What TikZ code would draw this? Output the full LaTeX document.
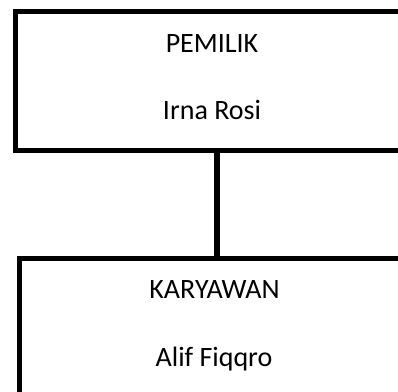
\documentclass[tikz,border=0pt]{standalone}
\usepackage{fontspec}
\setmainfont{Carlito}
\usetikzlibrary{positioning,calc}

\begin{document}
\begin{tikzpicture}[
    x=1pt, y=-1pt,
    box/.style={rectangle, draw, line width=5pt, minimum width=403pt, inner sep=0pt},
    txt/.style={anchor=base, font=\fontsize{28}{32}\selectfont},
    link/.style={line width=5.5pt}
]
    \useasboundingbox (0,0) rectangle (398,391);
    \clip (0,0) rectangle (398,391);
    % Boxes
    \node[box, minimum height=139.5pt] (pemilik) at (217,81.2) {};
    \node[box, minimum width=396pt, minimum height=200pt] (karyawan) at (217,358.7) {};
    % Texts
    \node[txt] (jabatan1) at (212,52.7) {PEMILIK};
    \node[txt] (nama1) at (212,119) {Irna Rosi};
    \node[txt] (jabatan2) at (214.5,298) {KARYAWAN};
    \node[txt] (nama2) at (214,366.7) {Alif Fiqqro};
    % Connector
    \draw[link] (pemilik.south) -- (karyawan.north);
\end{tikzpicture}
\end{document}
